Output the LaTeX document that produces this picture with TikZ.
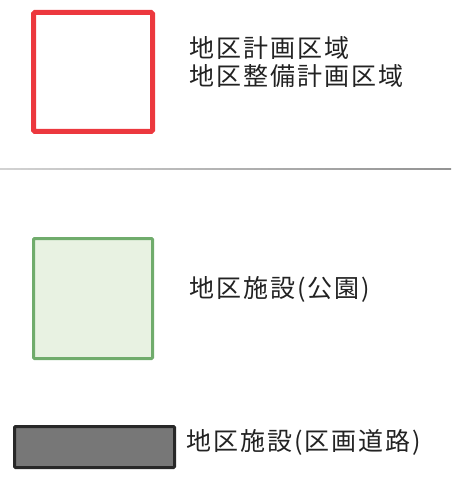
\documentclass[tikz,border=0pt]{standalone}
\usepackage{fontspec}
\newfontfamily\jp[LetterSpace=8]{Noto Sans CJK JP}
\definecolor{rline}{RGB}{236,56,62}
\definecolor{gline}{RGB}{112,172,108}
\definecolor{gfill}{RGB}{232,242,226}
\definecolor{rfill}{RGB}{119,119,119}
\definecolor{rdraw}{RGB}{40,40,40}
\definecolor{txt}{RGB}{34,34,34}
\begin{document}
\begin{tikzpicture}[x=1pt,y=-1pt,
  lbl/.style={anchor=west,inner sep=0pt,text=txt,font=\jp\fontsize{25pt}{28pt}\selectfont,align=left},
  redbox/.style={draw=rline,line width=5pt,rounded corners=1.5pt},
  greenbox/.style={draw=gline,fill=gfill,line width=3pt,rounded corners=1pt},
  roadbox/.style={draw=rdraw,fill=rfill,line width=3pt,rounded corners=1pt}]
\useasboundingbox (0,0) rectangle (451,478);
\draw[redbox] (33.5,12.5) rectangle (152.5,131.5);
\node[lbl] (t1) at (189,62) {地区計画区域\\地区整備計画区域};
\shade[left color=gray!35,right color=gray!85] (0,168.5) rectangle (451,170);
\draw[greenbox] (33.5,238.5) rectangle (152.5,358.5);
\node[lbl] (t2) at (189,289) {地区施設(公園)};
\draw[roadbox] (14.5,426.5) rectangle (174.5,467.5);
\node[lbl] (t3) at (186,442) {地区施設(区画道路)};
\end{tikzpicture}
\end{document}
